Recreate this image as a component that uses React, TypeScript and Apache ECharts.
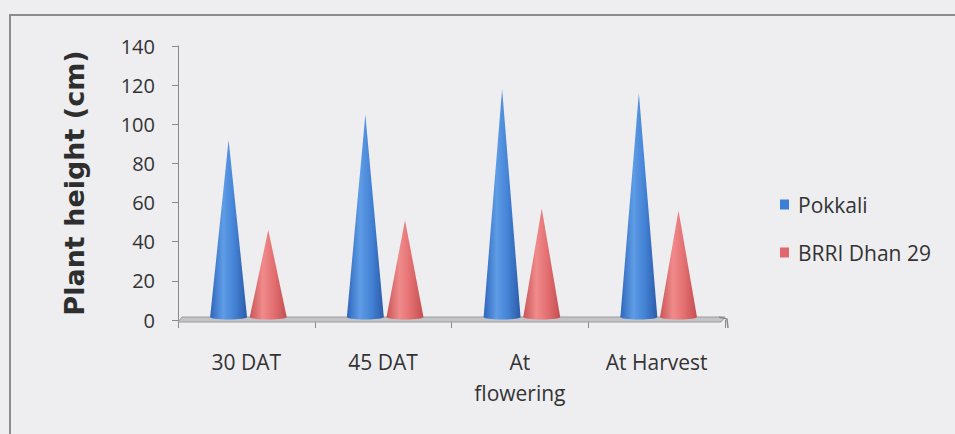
import React, { useEffect, useRef } from "react";
import * as echarts from "echarts";

const categories = ["30 DAT", "45 DAT", "At\nflowering", "At Harvest"];
const pokkali = [92, 105, 118, 116];
const brri = [46, 51, 57, 56];
const yTicks = { min: 0, max: 140, interval: 20 };

const FONT = "'Open Sans', 'Noto Sans', sans-serif";

function coneSeries(name: string, values: number[], offsetFrac: number, color: string, stops: string[]) {
  return {
    type: "custom",
    name,
    itemStyle: { color },
    data: values.map((v, i) => [i, v]),
    encode: { x: 0, y: 1 },
    z: 3,
    renderItem: (params: any, api: any) => {
      const idx = api.value(0);
      const v = api.value(1);
      const bw = api.size([1, 0])[0];
      const [cx, tipY] = api.coord([idx, v]);
      const base = api.coord([idx, 0])[1];
      const center = cx + offsetFrac * bw;
      const hw = 0.135 * bw;
      const by = base - 3;
      const grad = new echarts.graphic.LinearGradient(0, 0, 1, 0, [
        { offset: 0, color: stops[0] },
        { offset: 0.35, color: stops[1] },
        { offset: 0.65, color: stops[2] },
        { offset: 1, color: stops[3] },
      ]);
      return {
        type: "group",
        children: [
          {
            type: "ellipse",
            shape: { cx: center, cy: by, rx: hw, ry: 2.5 },
            style: { fill: grad },
          },
          {
            type: "polygon",
            shape: { points: [[center - hw, by], [center, tipY], [center + hw, by]] },
            style: { fill: grad },
          },
        ],
      };
    },
  };
}

export default function App() {
  const ref = useRef<HTMLDivElement>(null);
  useEffect(() => {
    document.body.style.margin = "0";
    const chart = echarts.init(ref.current!, null, { renderer: "svg" });
    chart.setOption({
      animation: false,
      backgroundColor: "#eeeef1",
      graphic: [
        {
          type: "rect",
          shape: { x: 10, y: 15, width: 960, height: 440 },
          style: { fill: "none", stroke: "#8c8c8f", lineWidth: 2 },
          silent: true,
        },
      ],
      grid: { left: 178, top: 46, right: 230, bottom: 114 },
      legend: {
        data: ["Pokkali", "BRRI Dhan 29"],
        orient: "vertical",
        left: 775,
        top: 189,
        itemWidth: 9,
        itemHeight: 10,
        itemGap: 27,
        icon: "rect",
        textStyle: { fontSize: 21, color: "#333", fontFamily: FONT, padding: [0, 0, 0, 4] },
      },
      xAxis: {
        type: "category",
        data: categories,
        axisLine: { show: false },
        axisTick: { show: true, length: 8, lineStyle: { color: "#8a8a8a" } },
        axisLabel: {
          fontSize: 21,
          color: "#333",
          fontFamily: FONT,
          margin: 26,
          lineHeight: 31,
          interval: 0,
        },
      },
      yAxis: {
        type: "value",
        min: yTicks.min,
        max: yTicks.max,
        interval: yTicks.interval,
        name: "Plant height (cm)",
        nameLocation: "middle",
        nameRotate: 90,
        nameGap: 90,
        nameTextStyle: { fontSize: 27, fontWeight: "bold", color: "#2e2e2e", fontFamily: "'DejaVu Sans', sans-serif" },
        axisLine: { show: true, lineStyle: { color: "#8a8a8a" } },
        axisTick: { show: true, length: 6, lineStyle: { color: "#8a8a8a" } },
        axisLabel: { fontSize: 20, color: "#333", fontFamily: FONT, margin: 23 },
        splitLine: { show: false },
      },
      series: [
        {
          type: "custom",
          name: "floor",
          silent: true,
          data: [[0, 0]],
          encode: { x: 0, y: 1 },
          z: 2,
          renderItem: (params: any, api: any) => {
            const bw = api.size([1, 0])[0];
            const left = api.coord([0, 0])[0] - bw / 2;
            const right = api.coord([categories.length - 1, 0])[0] + bw / 2;
            const y0 = api.coord([0, 0])[1];
            return {
              type: "group",
              children: [
                {
                  type: "polygon",
                  shape: { points: [[left, y0 + 2], [right - 4, y0 + 2], [right, y0 - 3], [left + 4, y0 - 3]] },
                  style: { fill: "#c4c4c8", stroke: "#9c9c9f", lineWidth: 1 },
                },
                {
                  type: "polyline",
                  shape: { points: [[right - 6, y0 - 3], [right + 2, y0 - 1], [right + 3, y0 + 8]] },
                  style: { fill: "none", stroke: "#8a8a8a", lineWidth: 1.5 },
                },
              ],
            };
          },
        },
        coneSeries("Pokkali", pokkali, -0.13, "#3d7fd6", ["#2f66bb", "#5e9ce6", "#4583d6", "#2b5ca9"]),
        coneSeries("BRRI Dhan 29", brri, 0.16, "#e0676b", ["#c95456", "#f08b8b", "#e36f71", "#c44f50"]),
      ],
    });
    return () => chart.dispose();
  }, []);
  return <div ref={ref} style={{ width: 955, height: 434 }} />;
}
